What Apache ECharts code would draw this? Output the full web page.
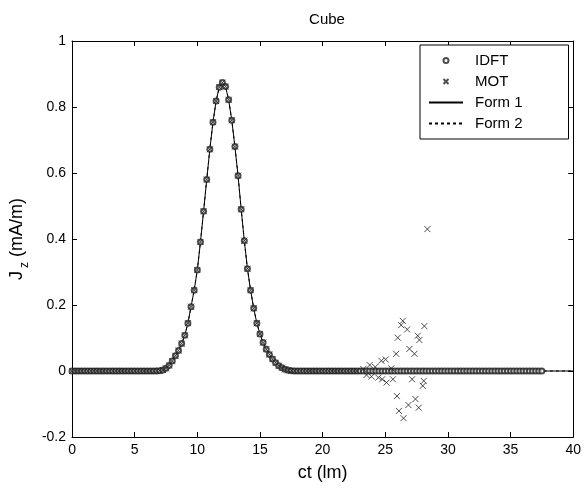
<!DOCTYPE html>
<html>
<head>
<meta charset="utf-8">
<script src="https://cdn.jsdelivr.net/npm/echarts@6/dist/echarts.min.js"></script>
<style>
  html, body { margin: 0; padding: 0; background: #fff; }
  #main { width: 584px; height: 493px; }
</style>
</head>
<body>
<div id="main"></div>
<script>
// time step of the sampled currents (lm)
const dt = 0.25

// Form 1 / Form 2 curves: pulse part, t from 6.75 to 17.75
const pulseT = [6.75, 7, 7.25, 7.5, 7.75, 8, 8.25, 8.5, 8.75, 9, 9.25, 9.5, 9.75, 10, 10.25, 10.5, 10.75, 11, 11.25, 11.5, 11.75,
    12, 12.25, 12.5, 12.75, 13, 13.25, 13.5, 13.75, 14, 14.25, 14.5, 14.75, 15, 15.25, 15.5, 15.75, 16, 16.25, 16.5, 16.75, 17, 17.25, 17.5, 17.75]
const form1Y = [0, 0.001, 0.003, 0.008, 0.017, 0.030, 0.046, 0.062, 0.083, 0.108, 0.145, 0.195, 0.245, 0.306, 0.391, 0.484, 0.580, 0.672, 0.754, 0.818, 0.860,
    0.874, 0.862, 0.822, 0.760, 0.680, 0.592, 0.490, 0.395, 0.310, 0.245, 0.190, 0.145, 0.112, 0.086, 0.066, 0.050, 0.036, 0.025, 0.016, 0.010, 0.005, 0.002, 0.001, 0]
const form2Y = [0, 0.001, 0.003, 0.008, 0.017, 0.030, 0.046, 0.062, 0.083, 0.108, 0.145, 0.195, 0.245, 0.306, 0.391, 0.484, 0.580, 0.672, 0.754, 0.818, 0.860,
    0.874, 0.862, 0.822, 0.760, 0.680, 0.592, 0.490, 0.395, 0.310, 0.245, 0.190, 0.145, 0.112, 0.086, 0.066, 0.050, 0.036, 0.025, 0.016, 0.010, 0.005, 0.002, 0.001, 0]

// IDFT samples, t = 0 .. 37.5 every dt
const idftY = [
    0, 0, 0, 0, 0, 0, 0, 0, 0, 0, 0, 0, 0, 0, 0, 0, 0, 0, 0, 0, 0, 0, 0, 0, 0, 0, 0,
    0, 0.001, 0.003, 0.008, 0.017, 0.030, 0.046, 0.062, 0.083, 0.108, 0.145, 0.195, 0.245, 0.306, 0.391, 0.484, 0.580, 0.672, 0.754, 0.818, 0.860,
    0.874, 0.862, 0.822, 0.760, 0.680, 0.592, 0.490, 0.395, 0.310, 0.245, 0.190, 0.145, 0.112, 0.086, 0.066, 0.050, 0.036, 0.025, 0.016, 0.010, 0.005, 0.002, 0.001, 0,
    0, 0, 0, 0, 0, 0, 0, 0, 0, 0, 0, 0, 0, 0, 0, 0, 0, 0, 0, 0,
    0, 0, 0, 0, 0, 0, 0, 0, 0, 0, 0, 0, 0, 0, 0, 0, 0, 0, 0, 0,
    0, 0, 0, 0, 0, 0, 0, 0, 0, 0, 0, 0, 0, 0, 0, 0, 0, 0, 0, 0,
    0, 0, 0, 0, 0, 0, 0, 0, 0, 0, 0, 0, 0, 0, 0, 0, 0, 0, 0
]

// MOT samples, t = 0 .. 23 every dt
const motY = [
    0, 0, 0, 0, 0, 0, 0, 0, 0, 0, 0, 0, 0, 0, 0, 0, 0, 0, 0, 0, 0, 0, 0, 0, 0, 0, 0,
    0, 0.001, 0.003, 0.008, 0.017, 0.030, 0.046, 0.062, 0.083, 0.108, 0.145, 0.195, 0.245, 0.306, 0.391, 0.484, 0.580, 0.672, 0.754, 0.818, 0.860,
    0.874, 0.862, 0.822, 0.760, 0.680, 0.592, 0.490, 0.395, 0.310, 0.245, 0.190, 0.145, 0.112, 0.086, 0.066, 0.050, 0.036, 0.025, 0.016, 0.010, 0.005, 0.002, 0.001, 0,
    0, 0, 0, 0, 0, 0, 0, 0, 0, 0, 0, 0, 0, 0, 0, 0, 0, 0, 0, 0
]
// MOT late-time instability
const motTailT = [23.25, 23.5, 23.76, 23.9, 24.2, 24.45, 24.69, 24.75, 25.03, 25.1, 25.48, 25.61, 25.87, 25.93, 26.0, 26.09, 26.27, 26.4, 26.46,
    26.75, 26.85, 26.93, 27.14, 27.33, 27.41, 27.59, 27.67, 27.72, 27.99, 28.07, 28.12, 28.36]
const motTailY = [0.006, -0.012, 0.018, -0.017, 0.012, -0.02, 0.031, -0.025, 0.035, -0.035, 0.008, -0.025, 0.052, -0.076, 0.101, -0.121, 0.139, 0.152, -0.143,
    0.126, -0.103, 0.067, -0.025, 0.052, -0.085, 0.107, -0.111, 0.094, -0.045, -0.030, 0.136, 0.43]

// axes
const xMin = 0, xMax = 40, xStep = 5
const yMin = -0.2, yMax = 1, yStep = 0.2

const font = 'Liberation Sans, Arial, sans-serif'

function curve (ys) {
    let pts = [[xMin, 0]]
    ys.forEach((v, i) => { pts.push([pulseT[i], v]) })
    pts.push([xMax, 0])
    return pts
}
function sampled (ys) {
    return ys.map((v, i) => [i * dt, v])
}
let motData = sampled(motY).concat(motTailT.map((t, i) => [t, motTailY[i]]))

let myChart = echarts.init(document.getElementById('main'), null, { renderer: 'canvas' })
let axisCommon = {
    axisLine: { show: true, onZero: false, lineStyle: { color: '#000', width: 1 } },
    axisTick: { show: true, inside: true, length: 5, lineStyle: { color: '#000' } },
    splitLine: { show: false }
}
// legend entries for the lines: hide the dot ECharts puts in the middle
let noDot = { color: 'rgba(0,0,0,0)', borderColor: 'rgba(0,0,0,0)', borderWidth: 0, opacity: 0 }
let option = {
    animation: false,
    backgroundColor: '#fff',
    title: {
        text: 'Cube',
        left: 322,
        top: 7,
        textAlign: 'center',
        textStyle: { fontFamily: font, fontSize: 15, fontWeight: 'normal', color: '#000' }
    },
    legend: {
        left: 420,
        top: 45,
        orient: 'vertical',
        itemWidth: 34,
        itemHeight: 5,
        itemGap: 6,
        padding: [8, 46, 8, 8],
        borderColor: '#000',
        borderWidth: 1,
        backgroundColor: '#fff',
        textStyle: { fontFamily: font, fontSize: 15, color: '#000', lineHeight: 14, padding: [0, 0, 0, 7] },
        data: [
            'IDFT',
            'MOT',
            { name: 'Form 1', itemStyle: noDot },
            { name: 'Form 2', itemStyle: noDot }
        ]
    },
    grid: { left: 70, right: 9, top: 41, bottom: 56 },
    xAxis: [
        Object.assign({
            type: 'value', min: xMin, max: xMax, interval: xStep,
            name: 'ct (lm)', nameLocation: 'middle', nameGap: 27,
            nameTextStyle: { fontFamily: font, fontSize: 18, color: '#000' },
            axisLabel: { fontFamily: font, fontSize: 14, color: '#000', margin: 6 }
        }, axisCommon),
        Object.assign({
            type: 'value', min: xMin, max: xMax, interval: xStep, position: 'top',
            axisLabel: { show: false }
        }, axisCommon)
    ],
    yAxis: [
        Object.assign({
            type: 'value', min: yMin, max: yMax, interval: yStep,
            name: '{m|J}{s|z}{m| (mA/m)}', nameLocation: 'middle', nameGap: 34, nameRotate: 90,
            nameTextStyle: {
                rich: {
                    m: { fontFamily: font, fontSize: 18, color: '#000', lineHeight: 22, verticalAlign: 'bottom' },
                    s: { fontFamily: font, fontSize: 12, color: '#000', lineHeight: 22, verticalAlign: 'bottom', padding: [0, 0, -5, 3] }
                }
            },
            axisLabel: { fontFamily: font, fontSize: 14, color: '#000', margin: 6 }
        }, axisCommon),
        Object.assign({
            type: 'value', min: yMin, max: yMax, interval: yStep, position: 'right',
            axisLabel: { show: false }
        }, axisCommon)
    ],
    series: [
        {
            name: 'IDFT',
            type: 'scatter',
            symbol: 'emptyCircle',
            symbolSize: 5,
            itemStyle: { color: '#222', borderColor: '#222', borderWidth: 1 },
            data: sampled(idftY),
            z: 3
        },
        {
            name: 'MOT',
            type: 'scatter',
            symbol: 'path://M0,0L10,10M10,0L0,10',
            symbolSize: 6,
            itemStyle: { color: 'none', borderColor: '#222', borderWidth: 1 },
            data: motData,
            z: 4
        },
        {
            name: 'Form 1',
            type: 'line',
            symbol: 'none',
            lineStyle: { color: '#000', width: 1 },
            itemStyle: { color: '#000' },
            data: curve(form1Y),
            z: 2
        },
        {
            name: 'Form 2',
            type: 'line',
            symbol: 'none',
            lineStyle: { color: '#000', width: 1, type: [3, 3] },
            itemStyle: { color: '#000' },
            data: curve(form2Y),
            z: 2
        }
    ]
}
myChart.setOption(option)
window.onresize = myChart.resize
</script>
</body>
</html>
